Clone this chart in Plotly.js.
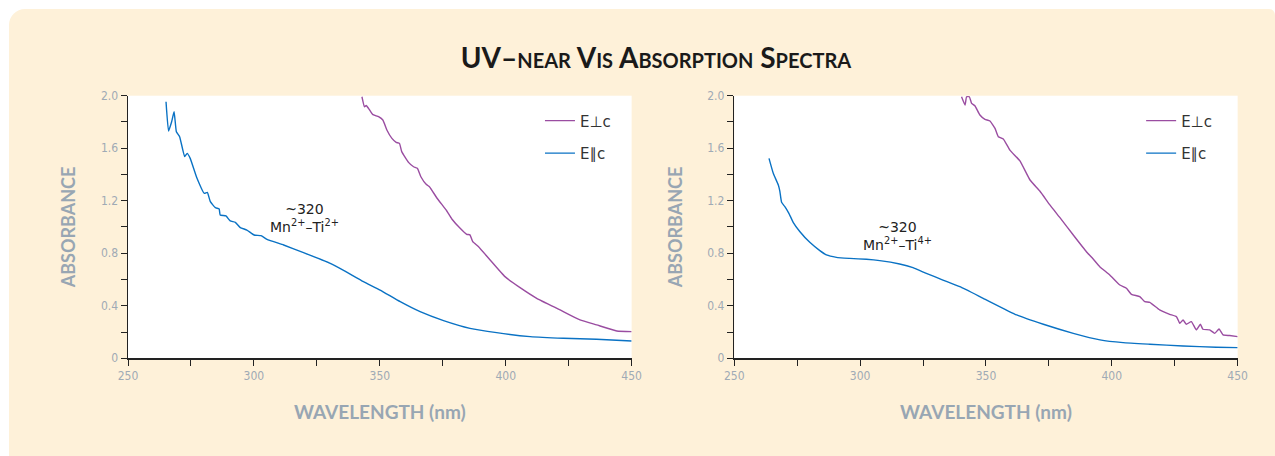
<!DOCTYPE html>
<html>
<head>
<meta charset="utf-8">
<script src="https://cdn.plot.ly/plotly-3.0.1.min.js"></script>
<style>
  html, body { margin:0; padding:0; background:#ffffff; }
  #bg { position:absolute; left:9px; top:9px; width:1266px; height:460px; background:#fef1d9; border-radius:16px 6px 0 0; }
  #chart { position:absolute; left:0; top:0; width:1275px; height:456px; }
</style>
</head>
<body>
<div id="bg"></div>
<div id="chart"></div>
<script>
// ---- Data ----
const leftParX = [265.1,266.1,267.3,268.3,269.2,270.5,272.5,273.5,274.7,277.4,280.3,281.5,282.7,284.7,286.2,286.6,288.9,290.6,292.6,294.6,297.2,300.1,302.8,305.2,311.8,319.7,330.3,335.6,343.5,350.1,358.1,366.0,375.3,385.8,396.4,409.7,422.9,436.1,450.0];
const leftParY = [1.954,1.731,1.80,1.878,1.726,1.688,1.536,1.561,1.523,1.371,1.256,1.264,1.193,1.147,1.137,1.091,1.084,1.046,1.036,0.995,0.977,0.939,0.934,0.906,0.863,0.805,0.723,0.670,0.584,0.520,0.431,0.355,0.287,0.228,0.195,0.165,0.152,0.145,0.132];

const leftPerpX = [342.9,343.9,344.6,345.5,347.1,349.5,351.2,352.8,354.8,356.5,357.8,358.7,361.4,363.4,364.9,366.3,368.4,369.7,372.6,376.6,378.6,381.9,384.5,385.8,386.9,389.2,393.8,399.7,405.7,412.3,421.6,429.5,436.1,444.1,450.0];
const leftPerpY = [1.992,1.916,1.925,1.904,1.858,1.840,1.815,1.739,1.675,1.645,1.637,1.574,1.492,1.459,1.447,1.383,1.325,1.307,1.223,1.122,1.061,0.990,0.944,0.940,0.888,0.850,0.749,0.622,0.538,0.457,0.368,0.292,0.254,0.208,0.203];

const rightParX = [263.8,265.5,267.5,268.1,268.8,270.1,271.7,273.4,276.1,280.0,284.0,286.6,290.6,295.9,302.5,307.8,315.7,321.0,326.3,332.9,339.6,348.9,362.2,372.8,384.7,395.3,404.5,415.1,428.3,441.5,450.0];
const rightParY = [1.523,1.409,1.320,1.274,1.188,1.155,1.104,1.036,0.964,0.883,0.820,0.787,0.769,0.761,0.754,0.744,0.718,0.690,0.647,0.596,0.545,0.457,0.330,0.259,0.190,0.140,0.119,0.107,0.094,0.084,0.081];

const rightPerpX = [340.3,341.7,342.3,343.4,344.3,345.6,347.6,349.6,351.6,353.6,354.9,356.9,359.5,363.5,367.5,371.4,375.4,379.4,384.7,389.9,392.6,395.2,399.2,403.2,405.8,407.8,411.1,413.1,415.1,419.0,423.0,425.7,427.0,428.3,429.6,431.6,433.6,435.2,436.2,438.9,440.9,442.6,444.2,446.8,450.0];
const rightPerpY = [1.992,1.929,1.992,1.992,1.942,1.924,1.853,1.820,1.807,1.751,1.688,1.670,1.586,1.503,1.358,1.274,1.168,1.071,0.939,0.812,0.756,0.698,0.635,0.558,0.533,0.487,0.470,0.431,0.426,0.368,0.335,0.317,0.266,0.292,0.259,0.279,0.216,0.259,0.221,0.216,0.190,0.223,0.178,0.173,0.165];

const seriesNames = ["E\u22A5c", "E\u2225c"];
const yTickVals = [0, 0.4, 0.8, 1.2, 1.6, 2.0];
const yTickText = ["0", "0.4", "0.8", "1.2", "1.6", "2.0"];
const xTickVals = [250, 300, 350, 400, 450];
const xTickText = ["250", "300", "350", "400", "450"];
const annotLeft = {x: 320, y: 1.07, text: "~320<br>Mn<sup>2+</sup>\u2013Ti<sup>2+</sup>"};
const annotRight = {x: 315, y: 0.93, text: "~320<br>Mn<sup>2+</sup>\u2013Ti<sup>4+</sup>"};

// ---- Styles ----
const PURPLE = "#9a4da1";
const BLUE = "#0a72c4";
const TICKCOL = "#9faab5";
const TITLECOL = "#98a6b3";

function tr(x, y, name, color, xa, ya, leg, group) {
  return {x: x, y: y, name: name, type: "scatter", mode: "lines",
    line: {color: color, width: 1.4, shape: "spline", smoothing: 0.4},
    xaxis: xa, yaxis: ya, legend: leg, legendgroup: group, hoverinfo: "skip"};
}

const data = [
  tr(leftPerpX, leftPerpY, seriesNames[0], PURPLE, "x", "y", "legend", "a1"),
  tr(leftParX, leftParY, seriesNames[1], BLUE, "x", "y", "legend", "b1"),
  tr(rightPerpX, rightPerpY, seriesNames[0], PURPLE, "x2", "y2", "legend2", "a2"),
  tr(rightParX, rightParY, seriesNames[1], BLUE, "x2", "y2", "legend2", "b2")
];

const tickFont = {family: "Liberation Sans Narrow, DejaVu Sans Condensed, sans-serif", size: 12, color: TICKCOL};
const axTitleFont = {family: "Lato, sans-serif", size: 19, color: TITLECOL, weight: "bold"};
const yTitleFont = {family: "Lato, sans-serif", size: 18, color: TITLECOL, weight: "bold"};

function xax(domain) {
  return {domain: domain, range: [250, 450], showgrid: false, zeroline: false,
    showline: true, linecolor: "#222", linewidth: 1.5,
    ticks: "outside", ticklen: 6, tickcolor: "#222", tickwidth: 1,
    tickvals: xTickVals, ticktext: xTickText, tickfont: tickFont,
    minor: {ticks: "outside", dtick: 25, tick0: 250, ticklen: 6, tickcolor: "#222", tickwidth: 1, showgrid: false},
    title: {text: "WAVELENGTH (nm)", font: axTitleFont, standoff: 23},
    fixedrange: true};
}
function yax(anchor) {
  return {domain: [0.2143, 0.7901], range: [0, 2.0], anchor: anchor, showgrid: false, zeroline: false,
    showline: true, linecolor: "#222", linewidth: 1.5,
    ticks: "outside", ticklen: 6, tickcolor: "#222", tickwidth: 1,
    tickvals: yTickVals, ticktext: yTickText, tickfont: tickFont,
    minor: {ticks: "outside", dtick: 0.2, tick0: 0, ticklen: 6, tickcolor: "#222", tickwidth: 1, showgrid: false},
    title: {text: "ABSORBANCE", font: yTitleFont, standoff: 20},
    fixedrange: true};
}

const legFont = {family: "DejaVu Sans, Verdana, sans-serif", size: 15, color: "#333"};
function leg(xp) {
  return {x: xp, y: 0.771, xanchor: "left", yanchor: "top", bgcolor: "rgba(0,0,0,0)",
    font: legFont, traceorder: "grouped", tracegroupgap: 10, itemclick: false, itemdoubleclick: false};
}

function ann(a, xr, yr) {
  return {x: a.x, y: a.y, xref: xr, yref: yr, text: a.text, showarrow: false,
    font: {family: "DejaVu Sans, Verdana, sans-serif", size: 14, color: "#222"}, align: "center"};
}

const layout = {
  width: 1275, height: 456,
  margin: {l: 0, r: 0, t: 0, b: 0},
  paper_bgcolor: "rgba(0,0,0,0)", plot_bgcolor: "#ffffff",
  showlegend: true,
  title: {text: "UV\u2013near Vis Absorption Spectra", x: 0.5145, xanchor: "center", y: 0.873, yanchor: "middle",
    font: {family: "Lato, sans-serif", size: 28, color: "#1a1a1a", weight: "bold", variant: "small-caps"}},
  xaxis: Object.assign(xax([0.1004, 0.4954]), {anchor: "y"}),
  yaxis: yax("x"),
  xaxis2: Object.assign(xax([0.5759, 0.9707]), {anchor: "y2"}),
  yaxis2: yax("x2"),
  legend: leg(0.4235),
  legend2: leg(0.895),
  annotations: [ann(annotLeft, "x", "y"), ann(annotRight, "x2", "y2")]
};

Plotly.newPlot("chart", data, layout, {displayModeBar: false, staticPlot: true});
</script>
</body>
</html>
